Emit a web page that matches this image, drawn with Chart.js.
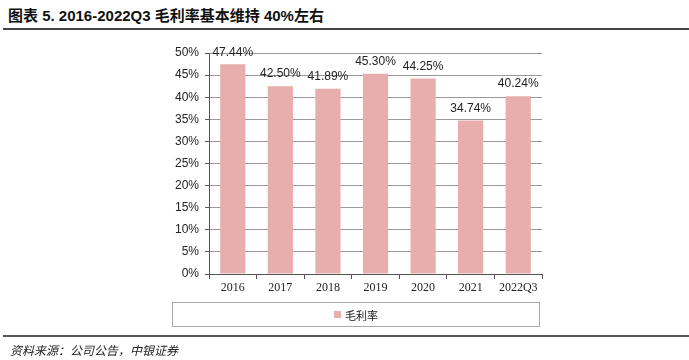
<!DOCTYPE html>
<html><head><meta charset="utf-8">
<script src="https://cdn.jsdelivr.net/npm/chart.js@4.4.0/dist/chart.umd.min.js"></script>
<style>
html,body{margin:0;padding:0;background:#fff;width:689px;height:360px;overflow:hidden;position:relative;font-family:"Liberation Sans",Arial,sans-serif;}
#title{position:absolute;left:8px;top:4px;font-size:15px;font-weight:bold;color:#111;font-family:"Liberation Sans","Noto Sans CJK SC",sans-serif;white-space:nowrap;}
#title .cn{font-family:"Noto Sans CJK SC",sans-serif;}
#topline{position:absolute;left:3px;right:0;top:28px;height:2px;background:#444;}
#botline{position:absolute;left:3px;right:0;top:335px;height:2px;background:#555;}
#source{position:absolute;left:10px;top:341px;font-size:12px;font-style:italic;color:#222;font-family:"Noto Sans CJK SC",sans-serif;white-space:nowrap;}
#wrap{position:absolute;left:0;top:0;width:689px;height:360px;}
#legend{position:absolute;left:172px;top:302px;width:366px;height:23px;border:1px solid #aaa;display:flex;align-items:center;justify-content:center;font-size:11px;color:#222;font-family:"Noto Sans CJK SC",serif;}
#legend .sw{display:inline-block;width:7px;height:7px;margin-right:4px;}
</style></head>
<body>
<div id="title">图表 5. 2016-2022Q3 毛利率基本维持 40%左右</div>
<div id="topline"></div>
<div id="wrap"><canvas id="c" width="689" height="360"></canvas></div>
<div id="legend"></div>
<div id="botline"></div>
<div id="source">资料来源：公司公告，中银证券</div>
<script>
const categories = ["2016","2017","2018","2019","2020","2021","2022Q3"];
const grossMargin = [47.44, 42.50, 41.89, 45.30, 44.25, 34.74, 40.24];
const seriesName = "毛利率";
const yTicks = [0,5,10,15,20,25,30,35,40,45,50];
const barColor = "#E8ADAD";

const labelPlugin = {
  id: 'valueLabels',
  afterDatasetsDraw(chart) {
    const ctx = chart.ctx;
    const meta = chart.getDatasetMeta(0);
    ctx.save();
    ctx.font = '12px "Liberation Sans", Arial, sans-serif';
    ctx.fillStyle = '#222';
    ctx.textAlign = 'center';
    ctx.textBaseline = 'middle';
    meta.data.forEach((bar, i) => {
      ctx.fillText(grossMargin[i].toFixed(2) + '%', bar.x, bar.y - 12);
    });
    ctx.restore();
  }
};

new Chart(document.getElementById('c'), {
  type: 'bar',
  data: {
    labels: categories,
    datasets: [{
      label: seriesName,
      data: grossMargin,
      backgroundColor: barColor,
      borderWidth: 0,
      barPercentage: 0.53,
      categoryPercentage: 1.0
    }]
  },
  options: {
    responsive: false,
    animation: false,
    layout: { padding: { left: 164, right: 147, top: 53, bottom: 58 } },
    plugins: { legend: { display: false }, tooltip: { enabled: false } },
    scales: {
      x: {
        offset: true,
        grid: { display: true, drawOnChartArea: false, offset: true, tickLength: 5, tickColor: '#555', color: '#555' },
        border: { display: true, color: '#555', width: 1 },
        ticks: { color: '#222', font: { family: '"Liberation Serif","Times New Roman",serif', size: 12 }, padding: 2, maxRotation: 0, autoSkip: false },
        afterFit(scale) { scale.height = 28; }
      },
      y: {
        min: 0, max: 50,
        afterBuildTicks(scale) { scale.ticks = yTicks.map(v => ({ value: v })); },
        grid: { color: '#999', lineWidth: 1, tickLength: 4, tickColor: '#555' },
        border: { display: true, color: '#555', width: 1 },
        ticks: { color: '#222', font: { family: '"Liberation Sans", Arial, sans-serif', size: 12 }, padding: 6, callback: v => v + '%' },
        afterFit(scale) { scale.width = 45; }
      }
    }
  },
  plugins: [labelPlugin]
});

const lg = document.getElementById('legend');
lg.innerHTML = '<span class="sw" style="background:' + barColor + '"></span><span>' + seriesName + '</span>';
</script>
</body></html>
